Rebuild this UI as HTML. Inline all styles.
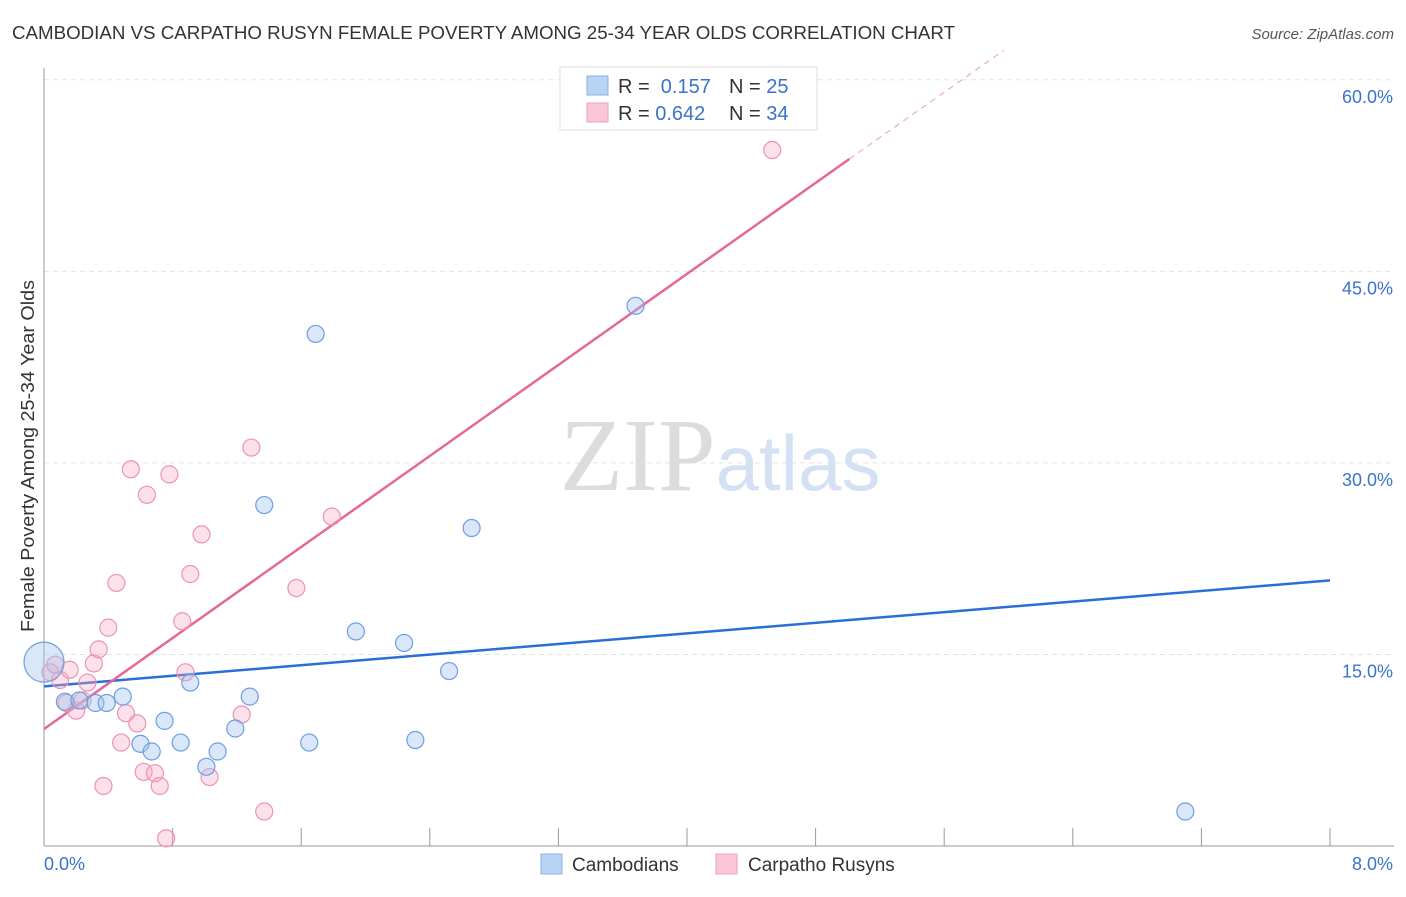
<!DOCTYPE html>
<html><head><meta charset="utf-8">
<style>
body{margin:0;background:#fff;font-family:"Liberation Sans",sans-serif;}
svg text{font-family:"Liberation Sans",sans-serif;}
</style></head>
<body>
<svg id="chart" width="1406" height="892" xmlns="http://www.w3.org/2000/svg">
<text x="12" y="39" font-size="18" fill="#333" textLength="943" lengthAdjust="spacingAndGlyphs">CAMBODIAN VS CARPATHO RUSYN FEMALE POVERTY AMONG 25-34 YEAR OLDS CORRELATION CHART</text>
<text x="1394" y="39" font-size="15" fill="#555" text-anchor="end" font-style="italic">Source: ZipAtlas.com</text>
<g id="grid"></g>
<text x="720" y="490" font-size="104" text-anchor="middle"><tspan font-family="Liberation Serif" fill="#dcdcdc">ZIP</tspan><tspan fill="#d4e1f3" font-size="78">atlas</tspan></text>
<g id="axes"></g>
<g id="lines"></g>
<g id="points"></g>
<text transform="translate(34,456) rotate(-90)" font-size="18" fill="#333" text-anchor="middle" textLength="352" lengthAdjust="spacingAndGlyphs">Female Poverty Among 25-34 Year Olds</text>
<g>
<rect x="560" y="67" width="257" height="63" fill="#fff" stroke="#ddd"/>
<rect x="587" y="76" width="21" height="19" fill="#b9d3f5" stroke="#8ab1e6"/>
<rect x="587" y="103" width="21" height="19" fill="#f9c6d5" stroke="#eea0b8"/>
<text x="618" y="93" font-size="20" fill="#333">R = <tspan fill="#3a72d0">&#160;0.157</tspan></text>
<text x="729" y="93" font-size="20" fill="#333">N = <tspan fill="#3a72d0">25</tspan></text>
<text x="618" y="120" font-size="20" fill="#333">R = <tspan fill="#3a72d0">0.642</tspan></text>
<text x="729" y="120" font-size="20" fill="#333">N = <tspan fill="#3a72d0">34</tspan></text>
</g>
<g>
<rect x="541" y="854" width="21" height="20" fill="#b9d3f5" stroke="#8ab1e6"/>
<text x="572" y="871" font-size="19" fill="#333">Cambodians</text>
<rect x="716" y="854" width="21" height="20" fill="#f9c6d5" stroke="#eea0b8"/>
<text x="748" y="871" font-size="19" fill="#333">Carpatho Rusyns</text>
</g>
</svg>
<script>
const yTicks=[15,30,45,60];
const yTickLabels=["15.0%","30.0%","45.0%","60.0%"];
const xTicks=[0,0.8,1.6,2.4,3.2,4.0,4.8,5.6,6.4,7.2,8.0];
const camX=[0,0.13,0.22,0.32,0.39,0.49,0.6,0.67,0.75,0.85,0.91,1.01,1.08,1.19,1.28,1.37,1.65,1.69,1.94,2.24,2.31,2.52,2.66,3.68,7.1];
const camY=[14.4,11.3,11.4,11.2,11.2,11.7,8.0,7.4,9.8,8.1,12.8,6.2,7.4,9.2,11.7,26.7,8.1,40.1,16.8,15.9,8.3,13.7,24.9,42.3,2.7];
const rusX=[0.04,0.1,0.16,0.2,0.24,0.27,0.31,0.34,0.37,0.4,0.45,0.48,0.51,0.54,0.58,0.62,0.64,0.69,0.72,0.76,0.78,0.86,0.88,0.91,0.98,1.03,1.23,1.29,1.37,1.57,1.79,4.53,0.07,0.14];
const rusY=[13.6,13.0,13.8,10.6,11.4,12.8,14.3,15.4,4.7,17.1,20.6,8.1,10.4,29.5,9.6,5.8,27.5,5.7,4.7,0.6,29.1,17.6,13.6,21.3,24.4,5.4,10.3,31.2,2.7,20.2,25.8,54.5,14.2,11.2];
const camLine=[[0,12.5],[8,20.8]];
const rusLine=[[0,9.16],[5.01,53.8]];
const rusDash=[[5.01,53.8],[5.97,62.3]];
const NS="http://www.w3.org/2000/svg";
const sx=v=>44+v*160.75, sy=v=>846-v*12.77;
function mk(t,a,p){const e=document.createElementNS(NS,t);for(const k in a)e.setAttribute(k,a[k]);p.appendChild(e);return e;}
const grid=document.getElementById('grid'),axes=document.getElementById('axes');
yTicks.forEach((t,i)=>{
 const l=mk('line',{x1:44,x2:1394,y1:sy(t),y2:sy(t),stroke:'#e3e3e3','stroke-dasharray':'5,4'},grid);
 
 
 const tx=mk('text',{x:1393,y:sy(t)+23,'font-size':18,fill:'#3a72d0','text-anchor':'end'},axes);
 tx.textContent=yTickLabels[i];
 
 
});
mk('line',{x1:44,x2:44,y1:68,y2:846,stroke:'#999'},axes);
mk('line',{x1:44,x2:1394,y1:846,y2:846,stroke:'#999'},axes);
xTicks.forEach(t=>{const l=mk('line',{x1:sx(t),x2:sx(t),y1:828,y2:846,stroke:'#999'},axes);
 
 });
let a=mk('text',{x:44,y:870,'font-size':18,fill:'#3a72d0'},axes);a.textContent='0.0%';


a=mk('text',{x:1393,y:870,'font-size':18,fill:'#3a72d0','text-anchor':'end'},axes);a.textContent='8.0%';


const pts=document.getElementById('points');
rusX.forEach((x,i)=>{const c=mk('circle',{cx:sx(x),cy:sy(rusY[i]),r:8.5,fill:'rgba(246,170,195,0.35)',stroke:'#ec93b0','stroke-width':1.2},pts);
 
 });
camX.forEach((x,i)=>{const c=mk('circle',{cx:sx(x),cy:sy(camY[i]),r:i==0?20:8.5,fill:'rgba(160,195,240,0.4)',stroke:'#6d9ee0','stroke-width':1.2},pts);
 
 });
const ln=document.getElementById('lines');
let l=mk('line',{x1:sx(camLine[0][0]),y1:sy(camLine[0][1]),x2:sx(camLine[1][0]),y2:sy(camLine[1][1]),stroke:'#2a6fd6','stroke-width':2.5},ln);


l=mk('line',{x1:sx(rusLine[0][0]),y1:sy(rusLine[0][1]),x2:sx(rusLine[1][0]),y2:sy(rusLine[1][1]),stroke:'#e5679a','stroke-width':2.5},ln);


l=mk('line',{x1:sx(rusDash[0][0]),y1:sy(rusDash[0][1]),x2:sx(rusDash[1][0]),y2:sy(rusDash[1][1]),stroke:'#eeaac2','stroke-width':1.2,'stroke-dasharray':'6,5'},ln);


</script>
</body></html>
